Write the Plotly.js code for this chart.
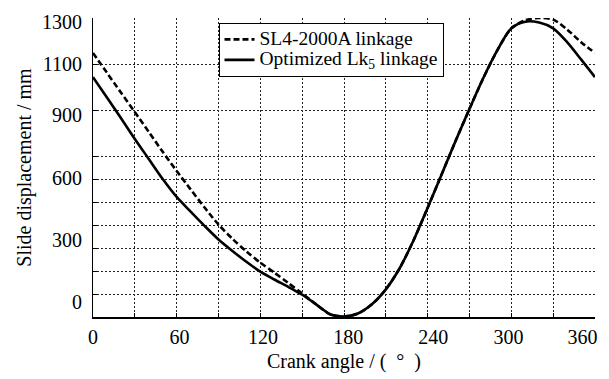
<!DOCTYPE html>
<html><head><meta charset="utf-8">
<script src="https://cdn.plot.ly/plotly-3.0.1.min.js"></script>
<style>html,body{margin:0;padding:0;background:#fff}#chart{width:609px;height:379px}</style>
</head><body><div id="chart"></div>
<script>
const crankAngle = [0,10,20,30,40,50,60,70,80,90,100,110,120,130,140,150,160,170,180,
  190,200,210,220,230,240,250,260,270,280,290,300,310,320,330,340,350,360];
const sl4Displacement = [1148,1062,976,891,805,718,635,555,476,402,340,285,236,193,148,102,55,12,2,
  15,55,120,213,335,475,620,765,905,1040,1160,1255,1290,1300,1293,1250,1195,1148];
const optimizedDisplacement = [1043,954,865,774,687,600,522,458,396,337,287,240,197,163,131,97,55,12,2,
  15,55,120,213,335,475,620,765,905,1040,1160,1255,1284,1280,1255,1195,1120,1043];
const seriesNames = ['SL4-2000A linkage', 'Optimized Lk<sub>5</sub> linkage'];

const xGridVals = [0,30,60,90,120,150,180,210,240,270,300,330,360];
const xLabelText = ['0','60','120','180','240','300','360'];
const xLabelPos = [0,62,122,183,244,298,351];
const yGridVals = [100,200,300,400,500,600,700,900,1100,1300];
const yLabelText = ['1300','1100','900','600','300','0'];
const yLabelPos = [1283,1100,878,604,335,65];

const serif = '"Liberation Serif", "Times New Roman", serif';
const big = (s) => '<span style="font-size:19.5px">' + s + '</span>';

const traces = [
  {x: crankAngle, y: sl4Displacement, name: big(seriesNames[0]), type: 'scatter', mode: 'lines',
   xaxis: 'x', yaxis: 'y',
   line: {color: '#000', width: 2.6, dash: '6px,3px', shape: 'spline', smoothing: 0.8}},
  {x: crankAngle, y: optimizedDisplacement, name: big(seriesNames[1]), type: 'scatter', mode: 'lines',
   xaxis: 'x2', yaxis: 'y2',
   line: {color: '#000', width: 2.6, shape: 'spline', smoothing: 0.8}}
];

const gridStyle = {showgrid: true, gridcolor: '#222', gridwidth: 1, griddash: '2px,2px'};
const tf = {family: serif, size: 20, color: '#000'};

const layout = {
  width: 609, height: 379,
  margin: {l: 93, r: 14, t: 18, b: 62, pad: 0},
  paper_bgcolor: '#fff', plot_bgcolor: '#fff',
  font: {family: serif, size: 20, color: '#000'},
  showlegend: true,
  legend: {x: 0.25, y: 0.983, xanchor: 'left', yanchor: 'top', bgcolor: '#fff',
    bordercolor: '#000', borderwidth: 1, font: {family: serif, size: 13.5, color: '#000'},
    itemwidth: 30, tracegroupgap: 0, traceorder: 'normal'},
  xaxis: Object.assign({range: [0, 360], tickmode: 'array', tickvals: xGridVals, showticklabels: false,
    ticks: 'inside', ticklen: 4, tickcolor: '#000', tickwidth: 1,
    showline: true, linecolor: '#000', linewidth: 1.5, zeroline: false, mirror: false}, gridStyle),
  xaxis2: {overlaying: 'x', anchor: 'y2', side: 'bottom', range: [0, 360], tickmode: 'array',
    tickvals: xLabelPos, ticktext: xLabelText, showgrid: false, ticks: '', showline: false, zeroline: false,
    tickfont: tf, ticklabelstandoff: 6,
    title: {text: 'Crank angle / (\u2002°\u2002)', font: tf, standoff: 6}},
  yaxis: Object.assign({range: [0, 1300], tickmode: 'array', tickvals: yGridVals, showticklabels: false,
    ticks: 'inside', ticklen: 4, tickcolor: '#000', tickwidth: 1,
    showline: true, linecolor: '#000', linewidth: 1.5, zeroline: false, mirror: false}, gridStyle),
  yaxis2: {overlaying: 'y', anchor: 'x2', side: 'left', range: [0, 1300], tickmode: 'array',
    tickvals: yLabelPos, ticktext: yLabelText, showgrid: false, ticks: '', showline: false, zeroline: false,
    tickfont: tf, ticklabelstandoff: 10,
    title: {text: 'Slide displacement / mm', font: tf, standoff: 5}}
};

Plotly.newPlot('chart', traces, layout, {displayModeBar: false, staticPlot: true});
</script>
</body></html>
